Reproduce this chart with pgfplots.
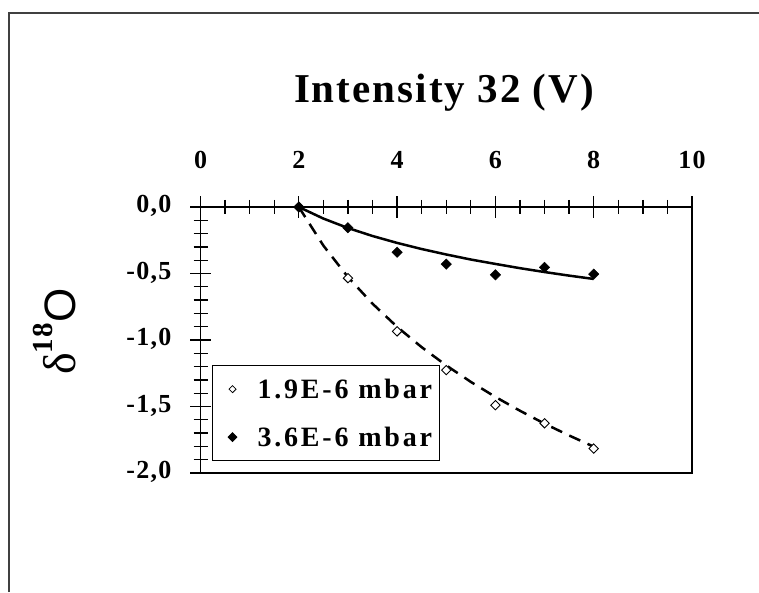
\documentclass[border=0pt]{standalone}
\usepackage{pgfplots}
\pgfplotsset{compat=1.18}
\usepackage{fontspec}
\setmainfont{Liberation Serif}[LetterSpace=5]
\newfontfamily\sansO{Liberation Sans}
\newfontfamily\deltafont{Liberation Serif}
\begin{document}
\begin{tikzpicture}[x=1pt,y=1pt]
\path[use as bounding box] (0,0) rectangle (759,592);
\draw[line width=2pt, black!75] (9,0) |- (759,579);
\begin{axis}[
  at={(200.5pt,119pt)}, anchor=south west,
  scale only axis, width=491.5pt, height=266pt,
  xmin=0, xmax=10, ymin=-2, ymax=0,
  xtick={0,2,...,10}, ytick={-2,-1.5,-1,-0.5,0},
  minor x tick num=3, minor y tick num=4,
  xtick pos=upper, xticklabel pos=upper, ytick pos=left,
  tick align=center,
  major tick length=21pt, minor tick length=14pt,
  axis line style={line width=1.6pt},
  every tick/.style={black, line width=1.3pt},
  /pgf/number format/assume math mode=true,
  tick label style={font=\fontsize{26}{26}\selectfont\bfseries},
  yticklabel style={xshift=-15pt, yshift=1pt, /pgf/number format/.cd, fixed, fixed zerofill, precision=1, use comma},
  xticklabel style={yshift=24pt, /pgf/number format/.cd, fixed},
  clip=false,
  legend cell align=left,
  legend style={at={(0.0234,0.045)}, anchor=south west, draw=black, line width=1pt, fill=white,
    font=\fontsize{28}{28}\selectfont\bfseries\addfontfeature{LetterSpace=10},
    inner xsep=5pt, inner ysep=11pt, row sep=23pt, column sep=10pt},
]
\addplot[only marks, mark=square*, mark size=3.3pt, mark options={rotate=45, fill=white, draw=black, line width=0.9pt},
  legend image code/.code={\path[draw=none] (0pt,0pt) -- (28pt,0pt); \draw[mark=square*, mark size=2.5pt, mark options={rotate=45, fill=white, draw=black, line width=0.8pt}] plot coordinates {(15pt,0pt)};}]
  coordinates {(2,0) (3,-0.535) (4,-0.935) (5,-1.226) (6,-1.49) (7,-1.626) (8,-1.816)};
\addlegendentry{1.9E-6 mbar}
\addplot[only marks, mark=square*, mark size=3.7pt, mark options={rotate=45, fill=black, draw=black},
  legend image code/.code={\path[draw=none] (0pt,0pt) -- (28pt,0pt); \draw[mark=square*, mark size=3pt, mark options={rotate=45, fill=black, draw=black}] plot coordinates {(15pt,0pt)};}]
  coordinates {(2,0) (3,-0.156) (4,-0.34) (5,-0.43) (6,-0.51) (7,-0.454) (8,-0.505)};
\addlegendentry{3.6E-6 mbar}
\addplot[forget plot, black, line width=2.5pt, dash pattern=on 12pt off 8pt]
  coordinates {(2,0) (2.5,-0.290) (3,-0.527) (3.5,-0.727) (4,-0.901) (4.5,-1.054) (5,-1.191) (5.5,-1.315) (6,-1.428) (6.5,-1.532) (7,-1.629) (7.5,-1.718) (8,-1.802)};
\addplot[forget plot, black, line width=2.5pt]
  coordinates {(2,0) (2.5,-0.087) (3,-0.158) (3.5,-0.218) (4,-0.270) (4.5,-0.316) (5,-0.357) (5.5,-0.395) (6,-0.428) (6.5,-0.460) (7,-0.489) (7.5,-0.516) (8,-0.541)};
\end{axis}
\node[anchor=base, inner sep=0pt] at (444,489) {\fontsize{41}{41}\selectfont\bfseries Intensity 32 (V)};
\node[rotate=90, anchor=base west, inner sep=0pt] at (75,217)
  {{\deltafont\fontsize{46}{46}\selectfont δ}\raisebox{23pt}{\fontsize{29}{29}\selectfont\bfseries 18}{\sansO\fontsize{44}{44}\selectfont O}};
\end{tikzpicture}
\end{document}
